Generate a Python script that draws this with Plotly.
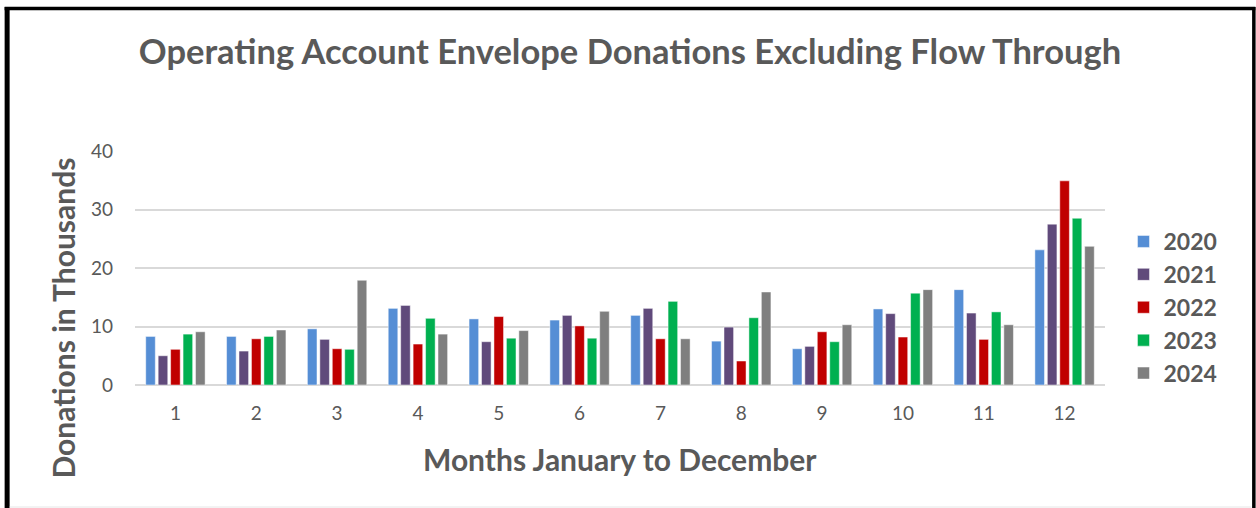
import plotly.graph_objects as go

months = ["1", "2", "3", "4", "5", "6", "7", "8", "9", "10", "11", "12"]
years = ["2020", "2021", "2022", "2023", "2024"]
colors = ["#558ED5", "#604A7B", "#C00000", "#00B050", "#7F7F7F"]

v2020 = [8.3, 8.3, 9.6, 13.1, 11.3, 11.1, 11.9, 7.5, 6.2, 13.0, 16.3, 23.1]
v2021 = [5.0, 5.8, 7.8, 13.6, 7.4, 11.9, 13.1, 9.9, 6.6, 12.2, 12.3, 27.5]
v2022 = [6.1, 7.9, 6.2, 7.0, 11.7, 10.1, 7.9, 4.1, 9.1, 8.2, 7.8, 34.9]
v2023 = [8.7, 8.3, 6.1, 11.4, 8.0, 8.0, 14.3, 11.5, 7.4, 15.7, 12.5, 28.5]
v2024 = [9.1, 9.4, 17.9, 8.7, 9.3, 12.6, 7.9, 15.9, 10.3, 16.3, 10.3, 23.7]
series = [v2020, v2021, v2022, v2023, v2024]

W, H = 1256, 508
L, R, T, B = 134.5, 1105.5, 151, 385
pw, ph = R - L, B - T

def px_x(x):
    return (x - L) / pw

def px_y(y):
    return (B - y) / ph

FONT = "Lato"
TXT = "#595959"

fig = go.Figure()
for name, vals, c in zip(years, series, colors):
    fig.add_trace(go.Bar(
        x=months, y=vals, name=name,
        marker=dict(color=c, line=dict(color="rgba(255,255,255,0.6)", width=0.8)),
    ))

fig.update_layout(
    width=W, height=H,
    margin=dict(l=L, r=W - R, t=T, b=H - B, pad=0),
    paper_bgcolor="white", plot_bgcolor="white",
    barmode="group", bargap=0.23, bargroupgap=0.23,
    font=dict(family=FONT, color=TXT, size=19),
    title=dict(
        text="<b>Operating Account Envelope Donations Excluding Flow Through</b>",
        x=630 / W, xanchor="center", y=1 - 52 / H, yanchor="middle",
        font=dict(family=FONT, size=34.5, color=TXT),
    ),
    xaxis=dict(
        type="category", showgrid=False, showline=False, ticks="",
        tickfont=dict(size=19, color=TXT), ticklabelstandoff=15,
    ),
    yaxis=dict(
        range=[0, 40], dtick=10, showgrid=True, gridcolor="#D9D9D9", gridwidth=1.5,
        zeroline=True, zerolinecolor="#D9D9D9", zerolinewidth=1.5,
        showline=False, ticks="", tickfont=dict(size=19, color=TXT),
        ticklabelstandoff=21,
    ),
    legend=dict(
        x=px_x(1124), xanchor="left", y=px_y(220), yanchor="top",
        font=dict(family=FONT, size=23, color=TXT, weight="bold"), itemwidth=30,
        tracegroupgap=0, bgcolor="rgba(0,0,0,0)",
    ),
    annotations=[
        dict(text="<b>Donations in Thousands</b>", textangle=-90,
             x=px_x(62), y=px_y(318), xref="paper", yref="paper",
             xanchor="center", yanchor="middle", showarrow=False,
             font=dict(family=FONT, size=30, color=TXT)),
        dict(text="<b>Months January to December</b>",
             x=px_x(620), y=px_y(459), xref="paper", yref="paper",
             xanchor="center", yanchor="middle", showarrow=False,
             font=dict(family=FONT, size=30, color=TXT)),
    ],
    shapes=[
        dict(type="line", xref="paper", yref="paper", x0=px_x(6.5), x1=px_x(6.5),
             y0=px_y(7), y1=px_y(520), line=dict(color="black", width=5)),
        dict(type="line", xref="paper", yref="paper", x0=px_x(4), x1=px_x(1256),
             y0=px_y(8.5), y1=px_y(8.5), line=dict(color="black", width=3.5)),
        dict(type="line", xref="paper", yref="paper", x0=px_x(1254.5), x1=px_x(1254.5),
             y0=px_y(7), y1=px_y(520), line=dict(color="black", width=3.5)),
        dict(type="line", xref="paper", yref="paper", x0=px_x(9), x1=px_x(1252),
             y0=px_y(507), y1=px_y(507), line=dict(color="#E6E6E6", width=1)),
    ],
)

fig.write_html("out.html", config={"displayModeBar": False},
               post_script="document.body.style.margin='0px';")
